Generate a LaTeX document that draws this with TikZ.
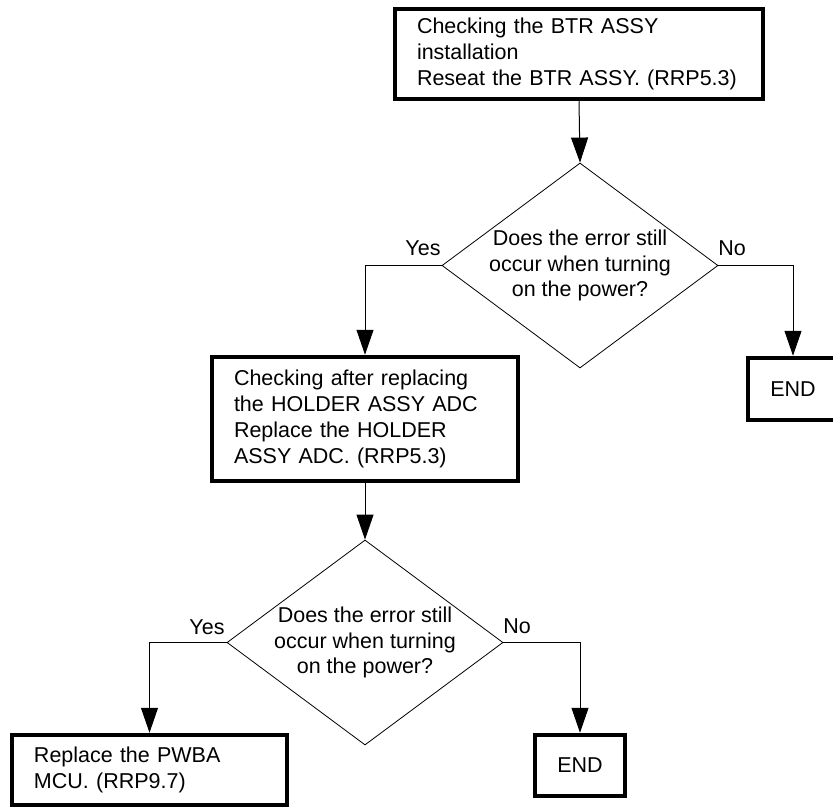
\documentclass[tikz,border=0pt]{standalone}
\usepackage{fontspec}
\setmainfont{Liberation Sans}
\usetikzlibrary{shapes.geometric,arrows.meta}
\tikzset{
  box/.style={draw=black, line width=4.5pt, rectangle, inner xsep=22pt, inner ysep=0pt, align=left},
  decision/.style={draw=black, line width=0.8pt, diamond, inner sep=0pt, minimum width=276pt, minimum height=205pt},
  dtext/.style={align=center, inner sep=0pt},
  lbl/.style={inner sep=0pt},
  arr/.style={draw=black, line width=1pt, -{Triangle[length=25pt,width=17pt]}},
}
\begin{document}
\begin{tikzpicture}[x=1pt,y=-1pt,font=\fontsize{21.5pt}{25.8pt}\selectfont]
\useasboundingbox (0,0) rectangle (833,808);
% boxes
\node[box, minimum width=368pt, minimum height=90pt, text width=324pt] (b1) at (579,54)
  {Checking the BTR ASSY\\installation\\Reseat the BTR ASSY. (RRP5.3)};
\node[decision] (d1) at (580,265.5) {};
\node[dtext] (t1) at (d1.center) {Does the error still\\occur when turning\\on the power?};
\node[box, minimum width=306pt, minimum height=124pt, text width=262pt] (b2) at (365,419)
  {Checking after replacing\\the HOLDER ASSY ADC\\Replace the HOLDER\\ASSY ADC. (RRP5.3)};
\node[box, minimum width=90pt, minimum height=62pt, align=center, inner xsep=0pt] (e1) at (793,389) {END};
\node[decision] (d2) at (365,642.5) {};
\node[dtext] (t2) at (d2.center) {Does the error still\\occur when turning\\on the power?};
\node[box, minimum width=275pt, minimum height=70pt, text width=231pt] (b3) at (149.5,770)
  {Replace the PWBA\\MCU. (RRP9.7)};
\node[box, minimum width=90pt, minimum height=61pt, align=center, inner xsep=0pt] (e2) at (580,765.5) {END};
% labels
\node[lbl] (y1) at (423,248) {Yes};
\node[lbl] (n1) at (732,248) {No};
\node[lbl] (y2) at (207,627) {Yes};
\node[lbl] (n2) at (517,626) {No};
% connectors
\draw[arr] (b1.south) -- (d1.north);
\draw[arr] (d1.west) -| (b2.north);
\draw[arr] (d1.east) -| (e1.north);
\draw[arr] (b2.south) -- (d2.north);
\draw[arr] (d2.west) -| (b3.north);
\draw[arr] (d2.east) -| (e2.north);
\end{tikzpicture}
\end{document}
